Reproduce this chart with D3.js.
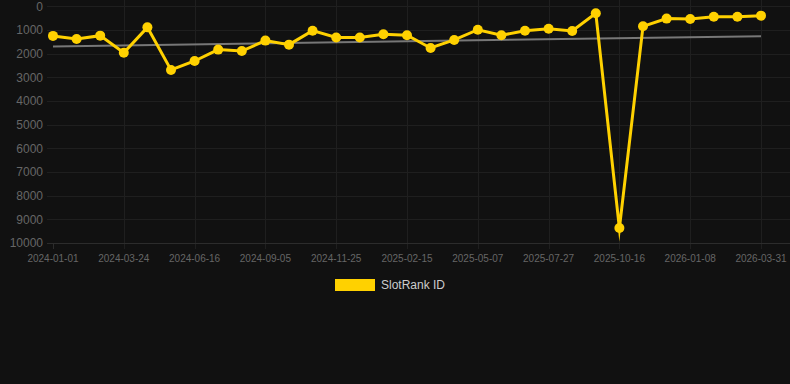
<!DOCTYPE html>
<html>
<head>
<meta charset="utf-8">
<script src="https://cdn.jsdelivr.net/npm/d3@7"></script>
<style>
  html, body { margin: 0; padding: 0; background: #111111; }
  #chart { width: 790px; height: 384px; }
</style>
</head>
<body>
<div id="chart"></div>
<script>
// Rank history (lower is better, axis is reversed)
const dates = [
    "2024-01-01", "2024-01-28", "2024-02-25", "2024-03-24", "2024-04-21", "2024-05-19",
    "2024-06-16", "2024-07-14", "2024-08-09", "2024-09-05", "2024-10-02", "2024-10-29",
    "2024-11-25", "2024-12-22", "2025-01-19", "2025-02-15", "2025-03-14", "2025-04-10",
    "2025-05-07", "2025-06-03", "2025-06-30", "2025-07-27", "2025-08-23", "2025-09-19",
    "2025-10-16", "2025-11-12", "2025-12-10", "2026-01-08", "2026-02-04", "2026-03-03",
    "2026-03-31"
];
const ranks = [
    1250, 1380, 1240, 1960, 890, 2690, 2310, 1830, 1890, 1450, 1620, 1030,
    1320, 1320, 1180, 1225, 1760, 1420, 990, 1225, 1030, 945, 1040, 295,
    9370, 845, 520, 535, 440, 440, 395
];
const yTicks = [0, 1000, 2000, 3000, 4000, 5000, 6000, 7000, 8000, 9000, 10000];
const seriesName = "SlotRank ID";

const width = 790;
const height = 384;
const lineColor = "#ffd100";

const svg = d3.select("#chart")
    .append("svg")
    .attr("width", width)
    .attr("height", height)
    .style("background-color", "#111111");

const x = d3.scalePoint()
    .domain(dates)
    .range([53, 761]);

const y = d3.scaleLinear()
    .domain([0, 10000])
    .range([6.3, 243]);

// grid
const labelled = dates.filter((d, i) => i % 3 === 0);

svg.append("g")
    .selectAll("line")
    .data(labelled)
    .enter()
    .append("line")
    .attr("x1", d => Math.round(x(d)) + 0.5)
    .attr("x2", d => Math.round(x(d)) + 0.5)
    .attr("y1", (d, i) => i === 0 ? 243 : 0)
    .attr("y2", 249)
    .attr("stroke", (d, i) => i === 0 ? "#2c2c2c" : "#1f1f1f")
    .attr("stroke-width", 1);

svg.append("g")
    .selectAll("line")
    .data(yTicks)
    .enter()
    .append("line")
    .attr("x1", 47)
    .attr("x2", width)
    .attr("y1", d => Math.round(y(d)) + 0.5)
    .attr("y2", d => Math.round(y(d)) + 0.5)
    .attr("stroke", d => d === 10000 ? "#2c2c2c" : "#1f1f1f")
    .attr("stroke-width", 1);

// y labels
svg.append("g")
    .selectAll("text")
    .data(yTicks)
    .enter()
    .append("text")
    .attr("x", 43)
    .attr("y", d => y(d))
    .attr("dy", "0.35em")
    .attr("text-anchor", "end")
    .style("font-family", "Liberation Sans, Arial, sans-serif")
    .style("font-size", "12px")
    .style("fill", "#666666")
    .text(d => d);

// x labels
svg.append("g")
    .selectAll("text")
    .data(labelled)
    .enter()
    .append("text")
    .attr("x", d => x(d))
    .attr("y", 262)
    .attr("text-anchor", "middle")
    .style("font-family", "Liberation Sans, Arial, sans-serif")
    .style("font-size", "10px")
    .style("fill", "#666666")
    .text(d => d);

// trend line (least squares over the series)
const n = ranks.length;
const mx = d3.mean(ranks, (d, i) => i);
const my = d3.mean(ranks);
const slope = d3.sum(ranks, (d, i) => (i - mx) * (d - my)) / d3.sum(ranks, (d, i) => (i - mx) * (i - mx));
const icpt = my - slope * mx;

svg.append("line")
    .attr("x1", x(dates[0]))
    .attr("x2", x(dates[n - 1]))
    .attr("y1", y(icpt))
    .attr("y2", y(icpt + slope * (n - 1)))
    .attr("stroke", "#777777")
    .attr("stroke-width", 2);

// series
const line = d3.line()
    .x((d, i) => x(dates[i]))
    .y(d => y(d));

svg.append("path")
    .datum(ranks)
    .attr("d", line)
    .attr("fill", "none")
    .attr("stroke", lineColor)
    .attr("stroke-width", 3)
    .attr("stroke-linejoin", "miter")
    .attr("stroke-miterlimit", 10);

svg.append("g")
    .selectAll("circle")
    .data(ranks)
    .enter()
    .append("circle")
    .attr("cx", (d, i) => x(dates[i]))
    .attr("cy", d => y(d))
    .attr("r", 5)
    .attr("fill", lineColor);

// legend
svg.append("rect")
    .attr("x", 335)
    .attr("y", 279)
    .attr("width", 40)
    .attr("height", 12)
    .attr("fill", lineColor);

svg.append("text")
    .attr("x", 381)
    .attr("y", 285)
    .attr("dy", "0.35em")
    .style("font-family", "Liberation Sans, Arial, sans-serif")
    .style("font-size", "12px")
    .style("fill", "#cccccc")
    .text(seriesName);
</script>
</body>
</html>
